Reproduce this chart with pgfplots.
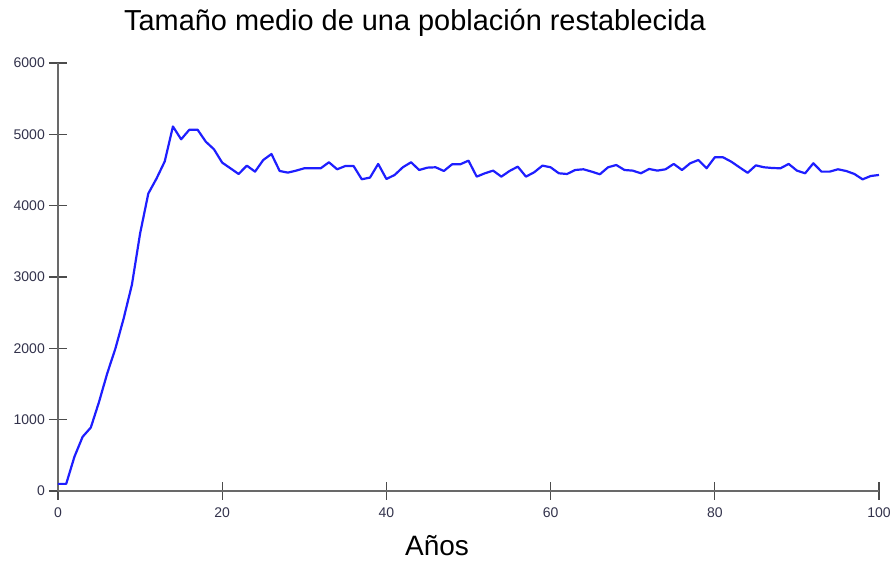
\documentclass[border=0pt]{standalone}
\usepackage{fontspec}
\setmainfont{Liberation Sans}
\usepackage{pgfplots}
\pgfplotsset{compat=1.18}
\definecolor{curve}{RGB}{30,30,255}
\definecolor{axisgray}{RGB}{105,105,105}
\definecolor{ticklab}{RGB}{50,50,75}
\begin{document}
\begin{tikzpicture}
\path[use as bounding box] (-58pt,-70pt) rectangle (836pt,491pt);
\begin{axis}[
  at={(0pt,0pt)}, anchor=south west,
  scale only axis, width=821pt, height=428pt,
  xmin=0, xmax=100, ymin=0, ymax=6000,
  enlargelimits=false,
  axis lines*=left,
  axis line style={axisgray, line width=1.6pt},
  xtick={0,20,...,100}, ytick={0,1000,...,6000},
  tick align=center, major tick length=18pt,
  tick style={black!70, line width=1.3pt},
  /pgf/number format/assume math mode=true,
  /pgf/number format/1000 sep={},
  tick label style={font=\fontsize{14}{16}\selectfont, text=ticklab},
  yticklabel style={inner sep=0pt, xshift=-4pt},
  xticklabel style={inner sep=0pt, yshift=-8pt},
  clip=false,
]
\addplot[curve, line width=2.2pt, line join=round] coordinates {
(0,100)(1,100)(2,480)(3,760)(4,890)(5,1250)(6,1650)(7,2000)(8,2420)(9,2890)
(10,3610)(11,4170)(12,4380)(13,4620)(14,5110)(15,4930)(16,5065)(17,5065)(18,4897)(19,4790)
(20,4603)(21,4524)(22,4444)(23,4561)(24,4477)(25,4640)(26,4724)(27,4486)(28,4463)(29,4491)
(30,4524)(31,4524)(32,4524)(33,4608)(34,4510)(35,4556)(36,4556)(37,4370)(38,4393)(39,4585)
(40,4374)(41,4430)(42,4538)(43,4608)(44,4500)(45,4533)(46,4538)(47,4486)(48,4580)(49,4580)
(50,4631)(51,4407)(52,4454)(53,4491)(54,4407)(55,4486)(56,4547)(57,4407)(58,4468)(59,4561)
(60,4538)(61,4454)(62,4444)(63,4500)(64,4510)(65,4477)(66,4440)(67,4538)(68,4570)(69,4500)
(70,4491)(71,4454)(72,4514)(73,4491)(74,4510)(75,4585)(76,4500)(77,4594)(78,4640)(79,4524)
(80,4678)(81,4678)(82,4617)(83,4538)(84,4460)(85,4565)(86,4538)(87,4528)(88,4524)(89,4585)
(90,4491)(91,4454)(92,4594)(93,4477)(94,4477)(95,4510)(96,4486)(97,4444)(98,4369)(99,4416)
(100,4430)
};
\end{axis}
\node[anchor=base, font=\fontsize{28.9}{32}\selectfont] at (357pt,460pt) {Tamaño medio de una población restablecida};
\node[anchor=base, font=\fontsize{28}{32}\selectfont] at (379pt,-65pt) {Años};
\end{tikzpicture}
\end{document}
